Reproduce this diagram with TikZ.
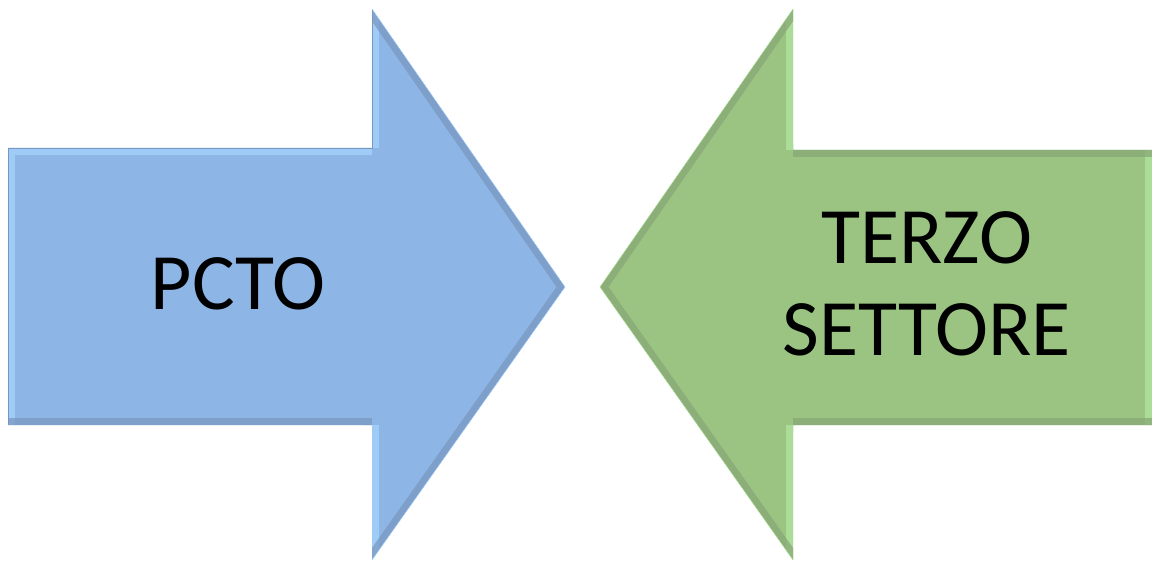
\documentclass[tikz,border=0pt]{standalone}
\usepackage{fontspec}
\setmainfont{Carlito}
\definecolor{pctoblue}{HTML}{8DB6E6}
\definecolor{pctolight}{HTML}{A8D4FF}
\definecolor{pctodark}{HTML}{7896BE}
\definecolor{terzogreen}{HTML}{9BC483}
\definecolor{terzolight}{HTML}{B4E8A2}
\definecolor{terzodark}{HTML}{86A574}
\tikzset{
  bigtext/.style={font=\fontsize{80}{92}\selectfont,align=center,text=black},
  bevel/.style={line width=14pt,line join=miter,opacity=0.7}
}
\begin{document}
\begin{tikzpicture}[x=1pt,y=-1pt]
\useasboundingbox (0,0) rectangle (1152,561);
% Freccia blu (verso destra)
\coordinate (b1) at (8,148);
\coordinate (b2) at (372,148);
\coordinate (b3) at (372,9);
\coordinate (b4) at (565,287);
\coordinate (b5) at (372,560);
\coordinate (b6) at (372,425);
\coordinate (b7) at (8,425);
\fill[pctoblue] (b1) -- (b2) -- (b3) -- (b4) -- (b5) -- (b6) -- (b7) -- cycle;
\begin{scope}
  \clip (b1) -- (b2) -- (b3) -- (b4) -- (b5) -- (b6) -- (b7) -- cycle;
  \draw[bevel,pctolight] (b7) -- (b1) -- (b2);
  \draw[bevel,pctolight] (b5) -- (b6);
  \draw[bevel,pctolight] (b2) -- (b3);
  \draw[bevel,pctodark] (b3) -- (b4) -- (b5);
  \draw[bevel,pctodark] (b6) -- (b7);
\end{scope}
\draw[pctodark,thin] (b7) -- (b1) -- (b2) -- (b3);
\draw[pctolight,thin] (b3) -- (b4) -- (b5);
% Freccia verde (verso sinistra)
\coordinate (g1) at (1152,150);
\coordinate (g2) at (793,150);
\coordinate (g3) at (793,9);
\coordinate (g4) at (600,287);
\coordinate (g5) at (793,560);
\coordinate (g6) at (793,425);
\coordinate (g7) at (1152,425);
\fill[terzogreen] (g1) -- (g2) -- (g3) -- (g4) -- (g5) -- (g6) -- (g7) -- cycle;
\begin{scope}
  \clip (g1) -- (g2) -- (g3) -- (g4) -- (g5) -- (g6) -- (g7) -- cycle;
  \draw[bevel,terzolight] (g2) -- (g3);
  \draw[bevel,terzolight] (g5) -- (g6);
  \draw[bevel,terzolight] (g7) -- (g1);
  \draw[bevel,terzodark] (g3) -- (g4) -- (g5);
  \draw[bevel,terzodark] (g1) -- (g2);
  \draw[bevel,terzodark] (g6) -- (g7);
\end{scope}
\draw[terzolight,thin] (g3) -- (g4) -- (g5);
% Testi
\node[bigtext] (pcto) at (238,284) {PCTO};
\node[bigtext] (terzo) at (927,284) {TERZO\\SETTORE};
\end{tikzpicture}
\end{document}
